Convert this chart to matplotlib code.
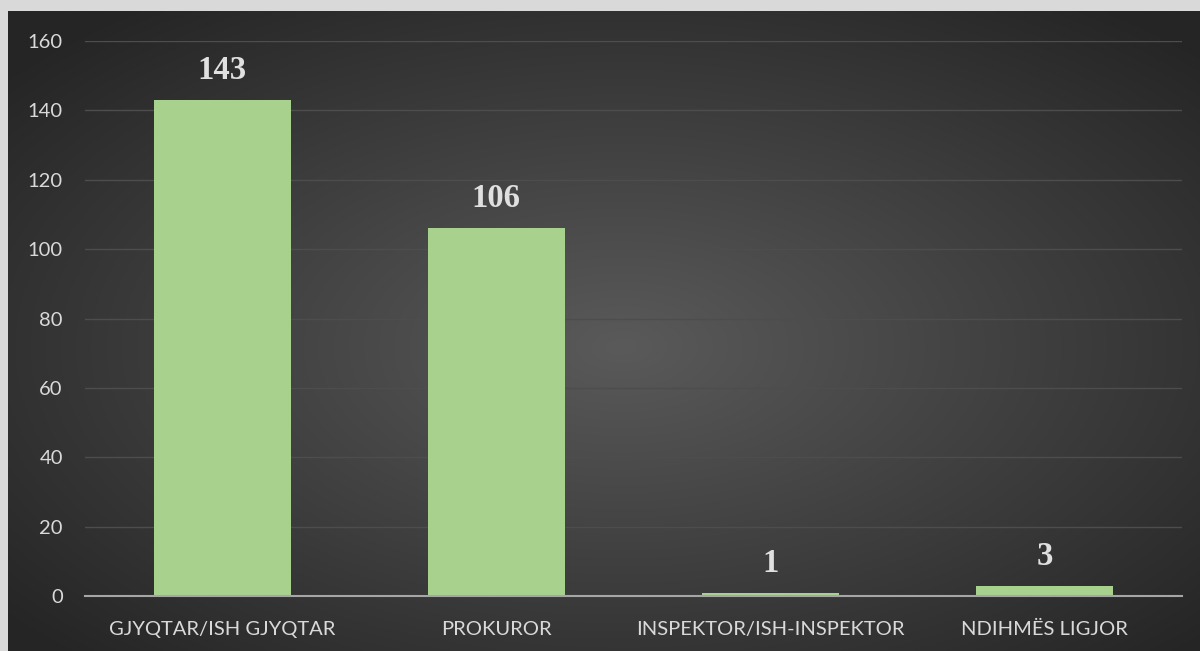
import numpy as np
import matplotlib
matplotlib.use("Agg")
import matplotlib.pyplot as plt

categories = ["GJYQTAR/ISH GJYQTAR", "PROKUROR", "INSPEKTOR/ISH-INSPEKTOR", "NDIHMËS LIGJOR"]
values = [143, 106, 1, 3]
yticks = [0, 20, 40, 60, 80, 100, 120, 140, 160]

W, H = 1200, 651
fig = plt.figure(figsize=(W / 100, H / 100), dpi=100)
fig.patch.set_facecolor("#d9d9d9")

# background panel with radial gradient
x0 = 8 / W
bg = fig.add_axes([x0, 0, 1 - x0, 1 - 11 / H])
bg.set_axis_off()
nx, ny = 600, 330
xx, yy = np.meshgrid(np.linspace(-1, 1, nx), np.linspace(-1, 1, ny))
r = np.sqrt((xx - 0.03) ** 2 + (yy - 0.05) ** 2)
r = np.clip(r / 1.35, 0, 1)
c_in = np.array([0x5a, 0x5a, 0x5a]) / 255
c_out = np.array([0x25, 0x25, 0x25]) / 255
img = c_in[None, None, :] * (1 - r[..., None]) + c_out[None, None, :] * r[..., None]
bg.imshow(img, aspect="auto", extent=[0, 1, 0, 1], interpolation="bilinear")
bg.set_xlim(0, 1)
bg.set_ylim(0, 1)

ax = fig.add_axes([85 / W, 1 - 596 / H, (1182 - 85) / W, (596 - 41) / H])
ax.set_facecolor("none")
x = np.arange(len(categories))
ax.bar(x, values, width=0.5, color="#a9d18e", zorder=3)
ax.set_xlim(-0.5, len(categories) - 0.5)
ax.set_ylim(0, 160)
ax.set_yticks(yticks)
ax.set_xticks(x)
ax.set_xticklabels(categories)
for s in ["top", "right", "left"]:
    ax.spines[s].set_visible(False)
ax.spines["bottom"].set_color("#a6a6a6")
ax.spines["bottom"].set_linewidth(1.5)
ax.spines["bottom"].set_zorder(4)
ax.grid(axis="y", color="#4d4d4d", linewidth=1.0, zorder=0)
ax.tick_params(axis="both", length=0, labelsize=14.5, labelcolor="#d9d9d9")
ax.tick_params(axis="x", pad=18)
ax.tick_params(axis="y", pad=16)
for lab in ax.get_xticklabels() + ax.get_yticklabels():
    lab.set_fontfamily("Lato")

for xi, v in zip(x, values):
    ax.annotate(str(v), (xi, v), xytext=(0, 10), textcoords="offset points",
                ha="center", va="bottom", fontsize=23.5, fontweight="bold",
                family="Liberation Serif", color="#e0e0e0", zorder=5)

fig.savefig("out.png", dpi=100, facecolor=fig.get_facecolor())
